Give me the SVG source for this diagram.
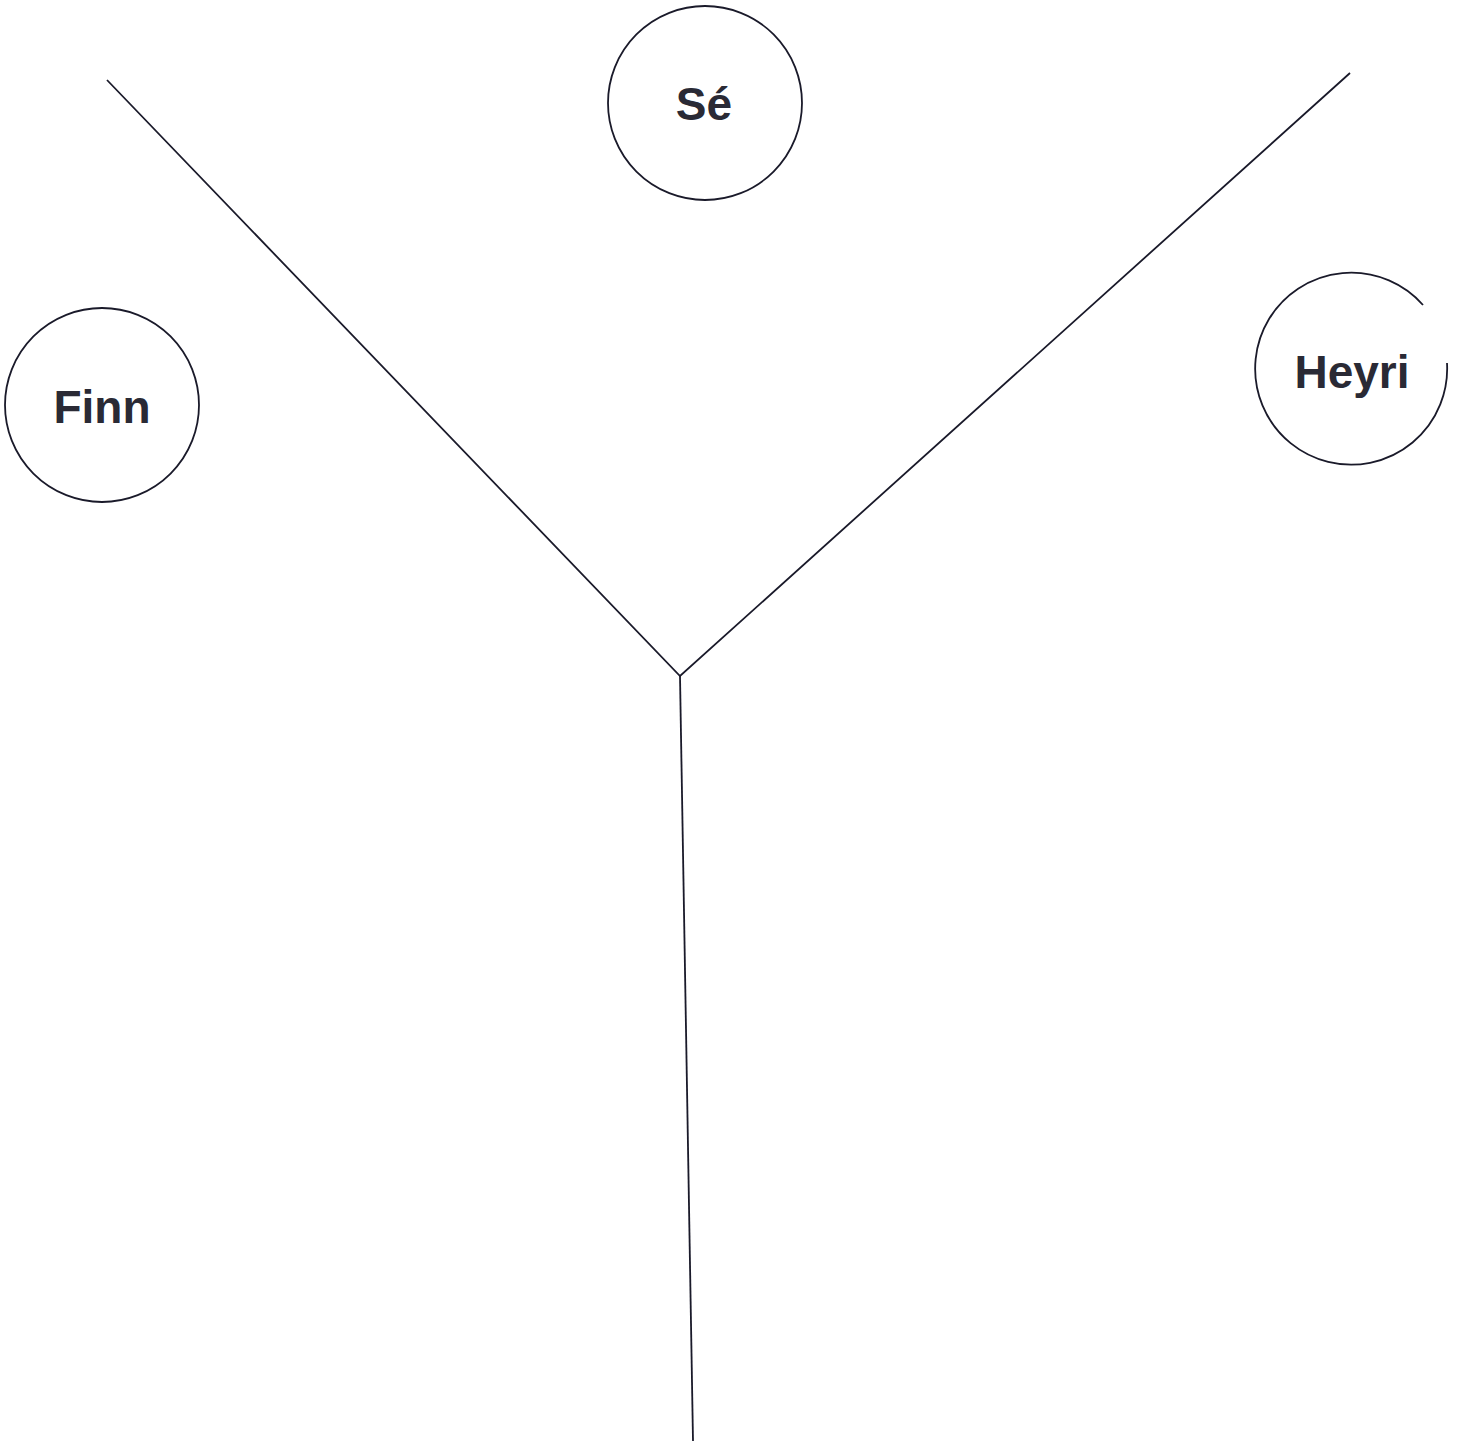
<svg xmlns="http://www.w3.org/2000/svg" width="1461" height="1441" viewBox="0 0 1461 1441">
<style>
.node{fill:none;stroke:#1a1a2a;stroke-width:1.8}
.lbl{font-family:"Liberation Sans",Arial,sans-serif;font-weight:bold;font-size:46px;fill:#2a2a35;text-anchor:middle}
.conn{fill:none;stroke:#1a1a2a;stroke-width:1.8}
</style>
<rect width="1461" height="1441" fill="#ffffff"/>
<g id="connectors">
<path class="conn" d="M107,80 L680,676 L1350,73"/>
<path class="conn" d="M680,676 L693,1441"/>
</g>
<g id="node-se">
<circle class="node" cx="705" cy="103" r="97"/>
<text class="lbl" x="704" y="120">Sé</text>
</g>
<g id="node-finn">
<circle class="node" cx="102" cy="405" r="97"/>
<text class="lbl" x="102" y="423">Finn</text>
</g>
<g id="node-heyri">
<path class="node" d="M1423,305 A96,96 0 1 0 1447,363"/>
<text class="lbl" x="1352" y="388">Heyri</text>
</g>
</svg>
